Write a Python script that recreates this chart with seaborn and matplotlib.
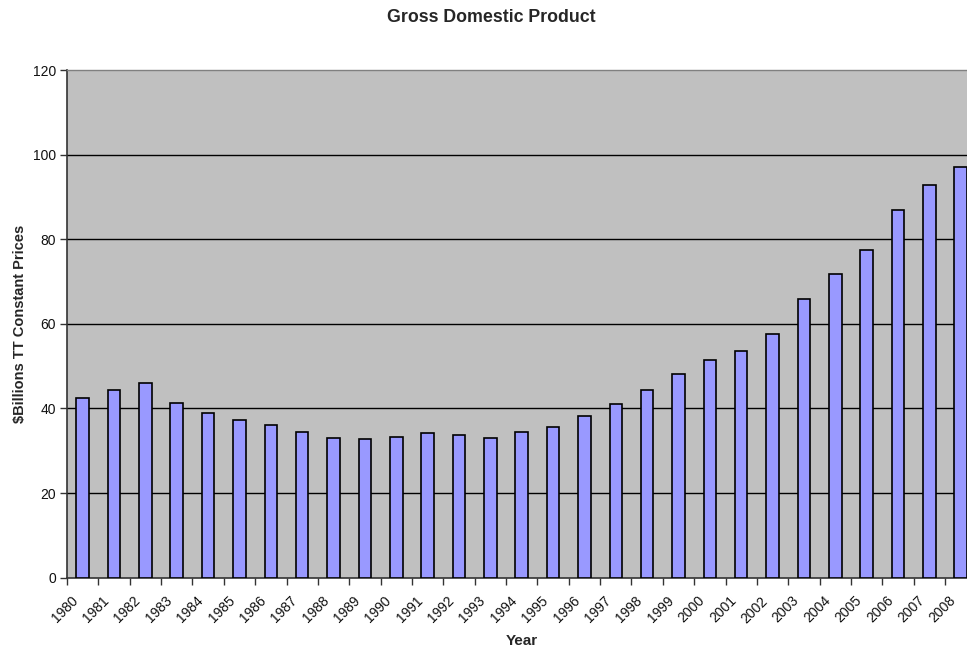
import numpy as np
import pandas as pd
import matplotlib
matplotlib.use("Agg")
import matplotlib.pyplot as plt
from matplotlib.ticker import FixedLocator
from matplotlib.transforms import ScaledTranslation
import seaborn as sns

years = [str(y) for y in range(1980, 2009)]
gdp = [42.4, 44.4, 46.0, 41.3, 38.9, 37.3, 36.1, 34.4, 33.1, 32.8,
       33.3, 34.3, 33.7, 33.1, 34.4, 35.7, 38.2, 41.1, 44.4, 48.1,
       51.4, 53.6, 57.7, 65.8, 71.8, 77.5, 86.8, 92.8, 97.0]
y_ticks = [0, 20, 40, 60, 80, 100, 120]

title = "Gross Domestic Product"
x_label = "Year"
y_label = "$Billions TT Constant Prices"

df = pd.DataFrame({"Year": years, "GDP": gdp})

sns.set_theme(style="white")
plt.rcParams["font.family"] = ["Liberation Sans", "DejaVu Sans"]

W, H = 967, 651
fig = plt.figure(figsize=(W / 100, H / 100), dpi=100)
left, right, top, bottom = 67, 976.4, 70, 577.7
ax = fig.add_axes([left / W, (H - bottom) / H, (right - left) / W, (bottom - top) / H])
ax.set_facecolor("#C0C0C0")

sns.barplot(data=df, x="Year", y="GDP", ax=ax, color="#9999FF",
            width=0.4, edgecolor="black", linewidth=1.2, saturation=1, zorder=3)

ax.set_xlim(-0.5, len(years) - 0.5)
ax.set_ylim(0, 120)
ax.set_yticks(y_ticks)
ax.set_yticklabels([str(v) for v in y_ticks], fontsize=10, color="#111111")
for v in y_ticks[1:-1]:
    ax.axhline(v, color="black", linewidth=1.0, zorder=1)

# category tick labels, rotated, anchored slightly left of the category centre
ax.set_xticks(range(len(years)))
ax.set_xticklabels([])
lab_tr = ax.get_xaxis_transform() + ScaledTranslation(-12 / 100, -16 / 100, fig.dpi_scale_trans)
for i, yr in enumerate(years):
    ax.text(i, 0, yr, transform=lab_tr, rotation=45, ha="right", va="top",
            rotation_mode="anchor", fontsize=10, color="#111111", clip_on=False)

ax.xaxis.set_minor_locator(FixedLocator(np.arange(-0.5, len(years), 1.0)))
ax.tick_params(axis="x", which="major", length=0, pad=6)
ax.tick_params(axis="x", which="minor", length=5, width=1, color="#333333",
               direction="out", bottom=True)
ax.tick_params(axis="y", which="major", length=5, width=1, color="#333333",
               direction="out", left=True, pad=3)

for s in ["left", "bottom"]:
    ax.spines[s].set_color("#333333")
    ax.spines[s].set_linewidth(1.2)
ax.spines["top"].set_color("#808080")
ax.spines["top"].set_linewidth(1.0)
ax.spines["right"].set_color("#808080")

ax.set_xlabel(x_label, fontsize=11, fontweight="bold")
ax.xaxis.set_label_coords(0.5, -(634 - bottom) / (bottom - top))
ax.set_ylabel(y_label, fontsize=10.5, fontweight="bold", labelpad=4)
fig.text(491 / W, 1 - 18 / H, title, ha="center", va="center",
         fontsize=12.8, fontweight="bold")

fig.savefig("out.png", dpi=100)
